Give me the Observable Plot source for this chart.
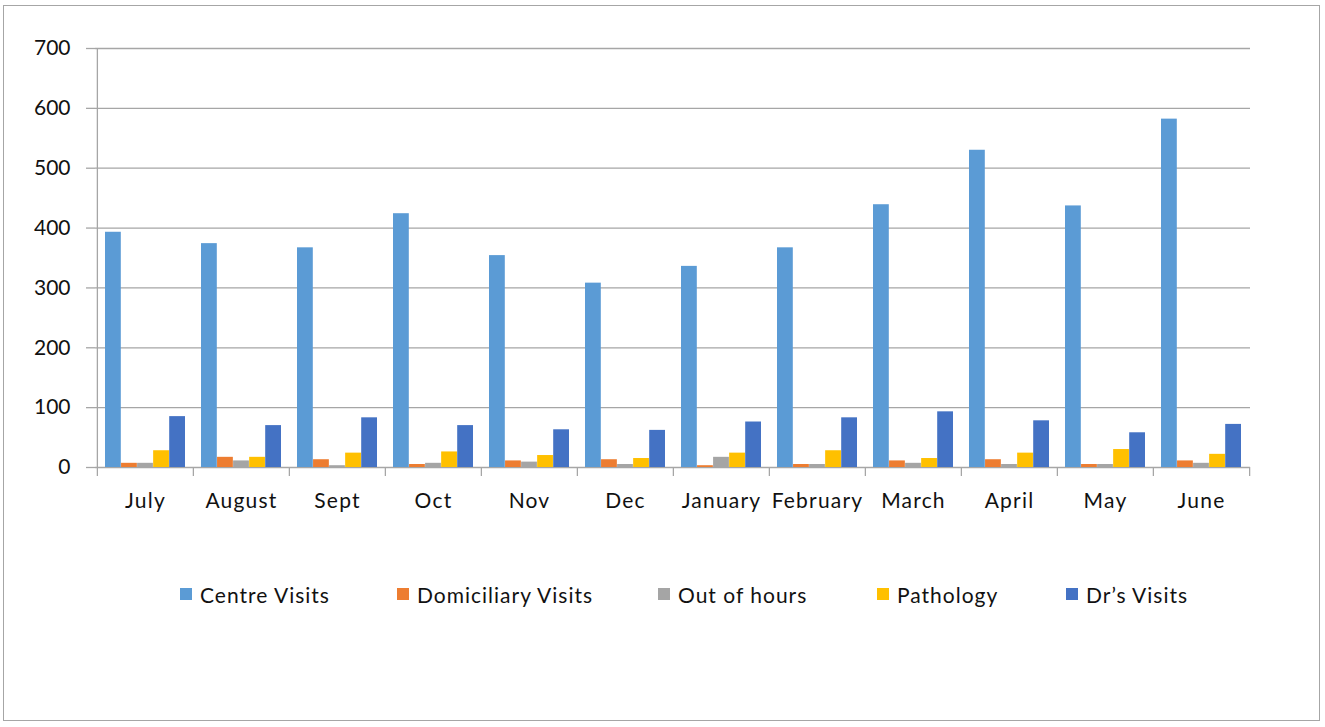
<!DOCTYPE html>
<html>
<head>
<meta charset="utf-8">
<script src="https://cdn.jsdelivr.net/npm/d3@7"></script>
<script src="https://cdn.jsdelivr.net/npm/@observablehq/plot@0.6"></script>
<style>
  body { margin: 0; background: #fff; font-family: Lato, "Open Sans", sans-serif; }
  #wrap { position: relative; width: 1325px; height: 727px; overflow: hidden; }
  #box { position: absolute; left: 3px; top: 5px; width: 1317px; height: 716px; border: 1px solid #a6a6a6; box-sizing: border-box; }
  #chart { position: absolute; left: 0; top: 0; }
  #legend { position: absolute; left: 0; top: 582px; width: 1325px; height: 24px; }
  .item { position: absolute; top: 0; display: flex; align-items: center; font-size: 21px; letter-spacing: 1px; color: #111; white-space: nowrap; height: 24px; }
  .sw { width: 12px; height: 12px; margin-right: 8px; }
  .month-labels text { letter-spacing: 1.2px; }
</style>
</head>
<body>
<div id="wrap">
  <div id="box"></div>
  <div id="chart"></div>
  <div id="legend"></div>
</div>
<script>
// Monthly activity counts, July through June
const months = ["July", "August", "Sept", "Oct", "Nov", "Dec", "January", "February", "March", "April", "May", "June"];
const seriesNames = ["Centre Visits", "Domiciliary Visits", "Out of hours", "Pathology", "Dr\u2019s Visits"];
const seriesColors = ["#5b9bd5", "#ed7d31", "#a5a5a5", "#ffc000", "#4472c4"];

const centreVisits      = [393, 374, 367, 424, 354, 308, 336, 367, 439, 530, 437, 582];
const domiciliaryVisits = [7, 17, 13, 5, 11, 13, 3, 5, 11, 13, 5, 11];
const outOfHours        = [7, 11, 3, 7, 9, 5, 17, 5, 7, 5, 5, 7];
const pathology         = [28, 17, 24, 26, 20, 15, 24, 28, 15, 24, 30, 22];
const drsVisits         = [85, 70, 83, 70, 63, 62, 76, 83, 93, 78, 58, 72];

const yTicks = [0, 100, 200, 300, 400, 500, 600, 700];

const seriesValues = [centreVisits, domiciliaryVisits, outOfHours, pathology, drsVisits];
const rows = seriesNames.flatMap((name, i) =>
  months.map((m, j) => ({month: m, series: name, index: i, value: seriesValues[i][j]}))
);

// layout of the grouped bars inside each month band
const width = 1325, marginLeft = 95, marginRight = 75;
const band = (width - marginLeft - marginRight) / months.length;
const outer = 8;
const barW = (band - 2 * outer) / seriesNames.length;
const gridColor = "#a6a6a6";

const barMarks = seriesNames.map((name, i) =>
  Plot.barY(rows.filter(d => d.index === i), {
    x: "month",
    y: "value",
    fill: seriesColors[i],
    insetLeft: outer + i * barW,
    insetRight: band - outer - (i + 1) * barW
  })
);

const chart = Plot.plot({
  width,
  height: 530,
  marginLeft,
  marginRight,
  marginTop: 48,
  marginBottom: 63,
  style: {fontFamily: "Lato, 'Open Sans', sans-serif", fontSize: "21px", color: "#111", background: "transparent"},
  x: {type: "band", domain: months, padding: 0, label: null},
  y: {domain: [0, 700], label: null},
  marks: [
    Plot.ruleY(yTicks, {stroke: gridColor, strokeWidth: 1.3}),
    Plot.ruleX(["July"], {dx: -band / 2, stroke: gridColor, strokeWidth: 1.3}),
    ...barMarks,
    Plot.axisY({ticks: yTicks, tickSize: 9, tickPadding: 16, stroke: gridColor, strokeWidth: 1.3, tickFormat: d => String(d)}),
    Plot.axisX({ticks: months, tickSize: 9, dx: -band / 2, text: null, stroke: gridColor, strokeWidth: 1.3}),
    Plot.axisX({ticks: ["June"], tickSize: 9, dx: band / 2, text: null, stroke: gridColor, strokeWidth: 1.3}),
    Plot.axisX({ticks: months, tickSize: 0, tickPadding: 26, className: "month-labels"})
  ]
});
document.getElementById("chart").appendChild(chart);

// legend below the plot
const legendLefts = [180, 397, 658, 877, 1066];
const legend = document.getElementById("legend");
seriesNames.forEach((name, i) => {
  const item = document.createElement("div");
  item.className = "item";
  item.style.left = legendLefts[i] + "px";
  const sw = document.createElement("span");
  sw.className = "sw";
  sw.style.background = seriesColors[i];
  const label = document.createElement("span");
  label.textContent = name;
  item.appendChild(sw);
  item.appendChild(label);
  legend.appendChild(item);
});
</script>
</body>
</html>
